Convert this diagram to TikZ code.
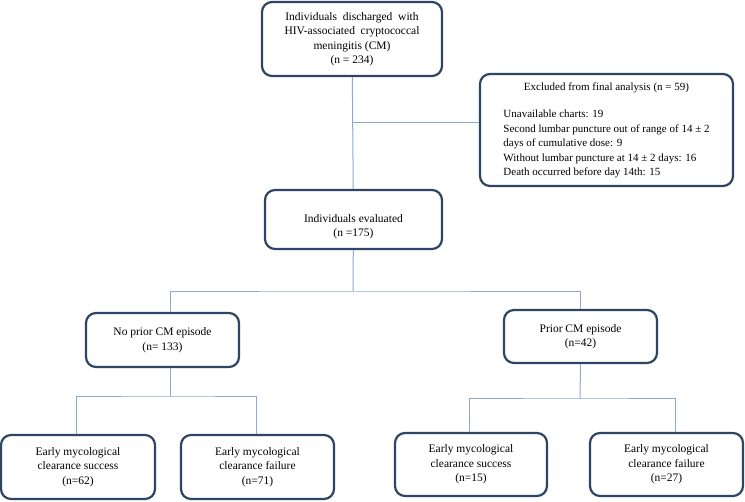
\documentclass[tikz,border=0pt]{standalone}
\usepackage{fontspec}
\setmainfont{Liberation Serif}
\usepackage{tikz}
\usetikzlibrary{positioning}
\definecolor{boxnavy}{HTML}{2E4563}
\definecolor{linkblue}{HTML}{8EA9CC}
\tikzstyle{b} = [rectangle, draw=boxnavy, line width=2.2pt, rounded corners=10pt, fill=white, align=center, inner sep=2pt, font=\fontsize{11.5}{14.5}\selectfont]
\tikzstyle{l} = [draw=linkblue, line width=1pt]

\begin{document}
\begin{tikzpicture}[x=1pt,y=-1pt]
\useasboundingbox (0,0) rectangle (745,502);
\node[b, minimum width=180pt, minimum height=74pt] (top) at (352,39)
  {Individuals \ discharged \ with\\HIV-associated \ cryptococcal\\meningitis (CM)\\(n = 234)};
\node[b, minimum width=253pt, minimum height=112pt, font=\fontsize{11}{14.5}\selectfont] (excl) at (606.5,130)
  {\begin{tabular}{@{}l@{}}
   \multicolumn{1}{c}{Excluded from final analysis (n = 59)}\\[13pt]
   Unavailable charts: 19\\
   Second lumbar puncture out of range of 14 ± 2\\
   days of cumulative dose: 9\\
   Without lumbar puncture at 14 ± 2 days: 16\\
   Death occurred before day 14th: 15
   \end{tabular}};
\node[b, minimum width=177pt, minimum height=59pt] (eval) at (353.5,219.5)
  {\rule{0pt}{22pt}Individuals evaluated\\(n =175)};
\node[b, minimum width=153pt, minimum height=54pt] (np) at (162.5,340)
  {No prior CM episode\\(n= 133)};
\node[b, minimum width=153pt, minimum height=53pt] (p) at (580.5,336.5)
  {Prior CM episode\\(n=42)};
\node[b, minimum width=154pt, minimum height=64pt] (nps) at (78,467)
  {Early mycological\\clearance success\\(n=62)};
\node[b, minimum width=153pt, minimum height=64pt] (npf) at (257.5,467)
  {Early mycological\\clearance failure\\(n=71)};
\node[b, minimum width=152pt, minimum height=63pt] (ps) at (471,464.5)
  {Early mycological\\clearance success\\(n=15)};
\node[b, minimum width=153pt, minimum height=63pt] (pf) at (666.5,464.5)
  {Early mycological\\clearance failure\\(n=27)};
% junctions
\coordinate (ex) at ([yshift=7pt]excl.west);
\coordinate (s0) at (353,292);
\coordinate (s1) at (170,397);
\coordinate (s2) at (580,399);
\draw[l] (top) -- (eval);
\draw[l] (top.south |- ex) -- (ex);
\draw[l] (eval) -- (s0);
\draw[l] ([xshift=7.5pt]np.north) |- (s0) -| (p.north);
\draw[l] ([xshift=7.5pt]np.south) -- (s1);
\draw[l] ([xshift=-2pt]nps.north) |- (s1) -| ([xshift=-1.5pt]npf.north);
\draw[l] (p.south) -- (s2);
\draw[l] ([xshift=-2pt]ps.north) |- (s2) -| ([xshift=8.5pt]pf.north);
\end{tikzpicture}
\end{document}
